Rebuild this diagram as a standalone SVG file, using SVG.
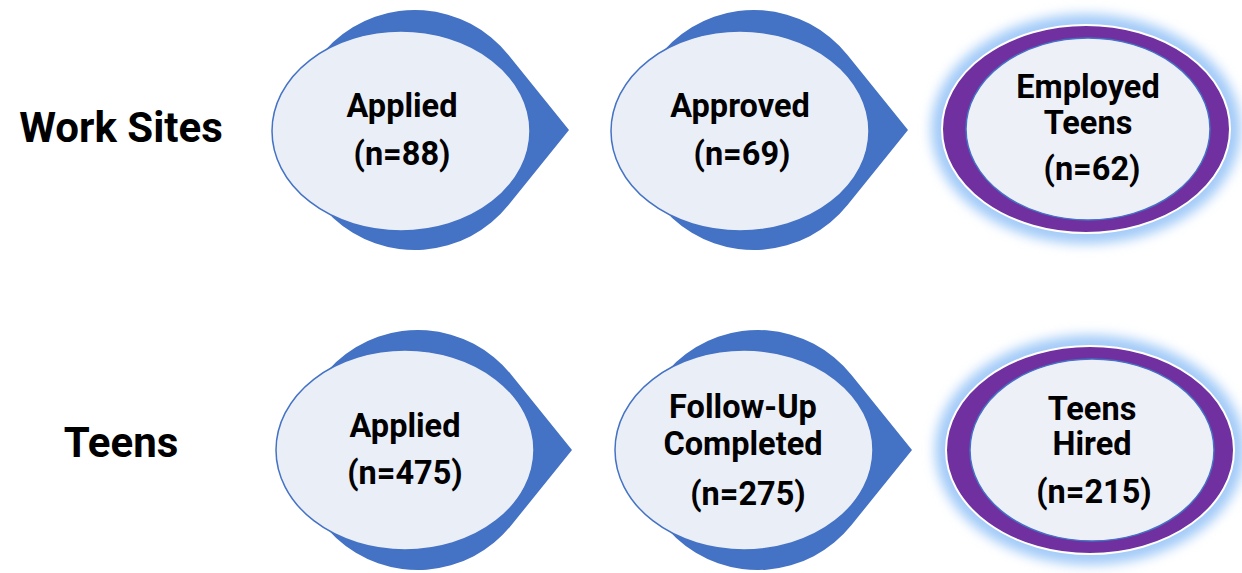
<svg xmlns="http://www.w3.org/2000/svg" width="1242" height="573" viewBox="0 0 1242 573">
<style>
.lbl{font-family:Roboto,"Liberation Sans",sans-serif;font-weight:bold;fill:#000;text-anchor:middle}
.row{font-size:42px}
.t{font-size:32.5px}
.drop{fill:#4472C4}
.inner{fill:#E9EEF7;stroke:#4472C4;stroke-width:1.5}
.purple{fill:#7030A0;stroke:#FFFFFF;stroke-width:2}
.pin{fill:#EEF0F8;stroke:#4472C4;stroke-width:1.5}
.glow{fill:#A3CBF8;filter:url(#blur)}
</style>
<defs>
<filter id="blur" x="-20%" y="-20%" width="140%" height="140%"><feGaussianBlur stdDeviation="6"/></filter>
</defs>
<rect width="1242" height="573" fill="#FFFFFF"/>
<text class="lbl row" x="121" y="142">Work Sites</text>
<text class="lbl row" x="121" y="457">Teens</text>
<g id="ws-applied">
<path class="drop" d="M569,130 L508.5,55 A120,120 0 1 0 508.5,205 Z"/>
<ellipse class="inner" cx="401" cy="131" rx="129" ry="100"/>
<text class="lbl t" x="402" y="117">Applied</text>
<text class="lbl t" x="402" y="165">(n=88)</text>
</g>
<g id="ws-approved">
<path class="drop" d="M908,130 L847.5,55 A120,120 0 1 0 847.5,205 Z"/>
<ellipse class="inner" cx="740" cy="131" rx="129" ry="100"/>
<text class="lbl t" x="740" y="117">Approved</text>
<text class="lbl t" x="742" y="165">(n=69)</text>
</g>
<g id="ws-employed">
<ellipse class="glow" cx="1086" cy="129" rx="155" ry="115"/>
<ellipse class="purple" cx="1086" cy="129" rx="144" ry="104"/>
<ellipse class="pin" cx="1088" cy="129" rx="122" ry="91"/>
<text class="lbl t" x="1088" y="98">Employed</text>
<text class="lbl t" x="1088" y="134">Teens</text>
<text class="lbl t" x="1092" y="180">(n=62)</text>
</g>
<g id="teens-applied">
<path class="drop" d="M572,450 L511.5,375 A120,120 0 1 0 511.5,525 Z"/>
<ellipse class="inner" cx="405" cy="450" rx="129" ry="100"/>
<text class="lbl t" x="405" y="437">Applied</text>
<text class="lbl t" x="405" y="484">(n=475)</text>
</g>
<g id="teens-followup">
<path class="drop" d="M912,450 L851.5,375 A120,120 0 1 0 851.5,525 Z"/>
<ellipse class="inner" cx="744" cy="450" rx="129" ry="100"/>
<text class="lbl t" x="743" y="418">Follow-Up</text>
<text class="lbl t" x="743" y="455">Completed</text>
<text class="lbl t" x="748" y="505">(n=275)</text>
</g>
<g id="teens-hired">
<ellipse class="glow" cx="1090" cy="450" rx="155" ry="115"/>
<ellipse class="purple" cx="1090" cy="450" rx="144" ry="104"/>
<ellipse class="pin" cx="1092" cy="450" rx="122" ry="91"/>
<text class="lbl t" x="1092" y="420">Teens</text>
<text class="lbl t" x="1092" y="455">Hired</text>
<text class="lbl t" x="1094" y="503">(n=215)</text>
</g>
<g id="connectors"></g>
</svg>
